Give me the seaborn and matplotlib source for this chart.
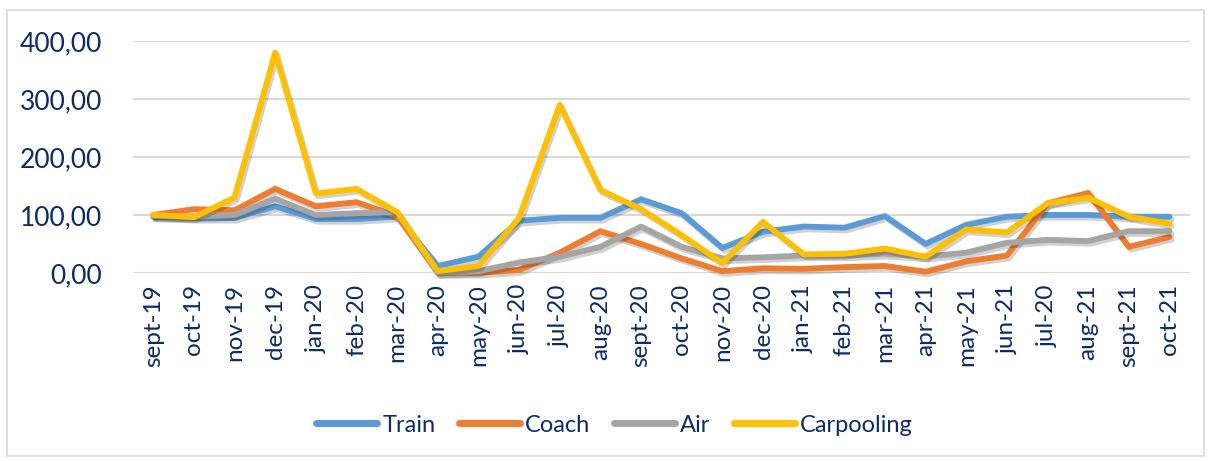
import numpy as np
import pandas as pd
import matplotlib
matplotlib.use("Agg")
import matplotlib.pyplot as plt
import matplotlib.patheffects as pe
from matplotlib.patches import Rectangle
from matplotlib.ticker import FuncFormatter
import seaborn as sns

months = ["sept-19", "oct-19", "nov-19", "dec-19", "jan-20", "feb-20", "mar-20",
          "apr-20", "may-20", "jun-20", "jul-20", "aug-20", "sept-20", "oct-20",
          "nov-20", "dec-20", "jan-21", "feb-21", "mar-21", "apr-21", "may-21",
          "jun-21", "jul-20", "aug-21", "sept-21", "oct-21"]

train = [97, 95, 95, 115, 93, 93, 97, 12, 28, 90, 95, 95, 127, 103, 43, 71,
         80, 78, 98, 50, 83, 97, 100, 100, 97, 97]
coach = [100, 110, 108, 145, 115, 122, 98, 0, 0, 5, 35, 72, 50, 25, 3, 8,
         7, 10, 12, 2, 20, 30, 120, 138, 45, 62]
air = [98, 97, 100, 128, 100, 103, 105, 0, 3, 18, 28, 45, 80, 45, 25, 27,
       30, 30, 33, 28, 35, 52, 57, 55, 72, 72]
carpooling = [100, 96, 130, 380, 137, 145, 105, 3, 12, 95, 290, 143, 110, 65, 17, 88,
              32, 33, 42, 28, 75, 70, 120, 130, 97, 85]

series = {"Train": train, "Coach": coach, "Air": air, "Carpooling": carpooling}
colors = {"Train": "#5B9BD5", "Coach": "#ED7D31", "Air": "#A5A5A5", "Carpooling": "#FFC000"}
navy = "#0D2A66"

df = pd.DataFrame(series)
df["pos"] = np.arange(len(months))
long = df.melt(id_vars="pos", var_name="mode", value_name="value")

sns.set_style("white")
plt.rcParams["font.family"] = ["Lato", "DejaVu Sans"]

fig = plt.figure(figsize=(12.12, 4.61), dpi=100)
ax = fig.add_axes([0.1097, 0.408, 0.872, 0.503])

sns.lineplot(data=long, x="pos", y="value", hue="mode", palette=colors,
             linewidth=4.2, ax=ax, legend=False, sort=False)

shadow = [pe.SimpleLineShadow(offset=(1.5, -2), alpha=0.18, shadow_color="black"), pe.Normal()]
for line in ax.get_lines():
    line.set_path_effects(shadow)
    line.set_clip_on(False)

ax.set_xlim(-0.5, len(months) - 0.5)
ax.set_ylim(0, 400)
ax.set_yticks([0, 100, 200, 300, 400])
ax.yaxis.set_major_formatter(FuncFormatter(lambda v, p: f"{v:.2f}".replace(".", ",")))
ax.set_xticks(range(len(months)))
ax.set_xticklabels(months, rotation=90)
ax.tick_params(axis="y", labelsize=19, labelcolor=navy, length=0, pad=22)
ax.tick_params(axis="x", labelsize=17.5, labelcolor=navy, length=0, pad=8)
ax.grid(axis="y", color="#D9D9D9", linewidth=1.5)
ax.set_axisbelow(True)
for s in ax.spines.values():
    s.set_visible(False)
ax.set_xlabel("")
ax.set_ylabel("")

handles = [plt.Line2D([], [], color=colors[k], linewidth=5, solid_capstyle="round") for k in series]
leg = fig.legend(handles, list(series.keys()), loc="center", bbox_to_anchor=(0.507, 0.078),
                 ncol=4, frameon=False, fontsize=17, handlelength=2.6, columnspacing=1.0,
                 handletextpad=0.2)
for t in leg.get_texts():
    t.set_color(navy)

fig.patches.append(Rectangle((7 / 1212, 5 / 461), 1197 / 1212, 446 / 461,
                             transform=fig.transFigure, fill=False,
                             edgecolor="#D9D9D9", linewidth=1.2))

fig.savefig("out.png", dpi=100)
